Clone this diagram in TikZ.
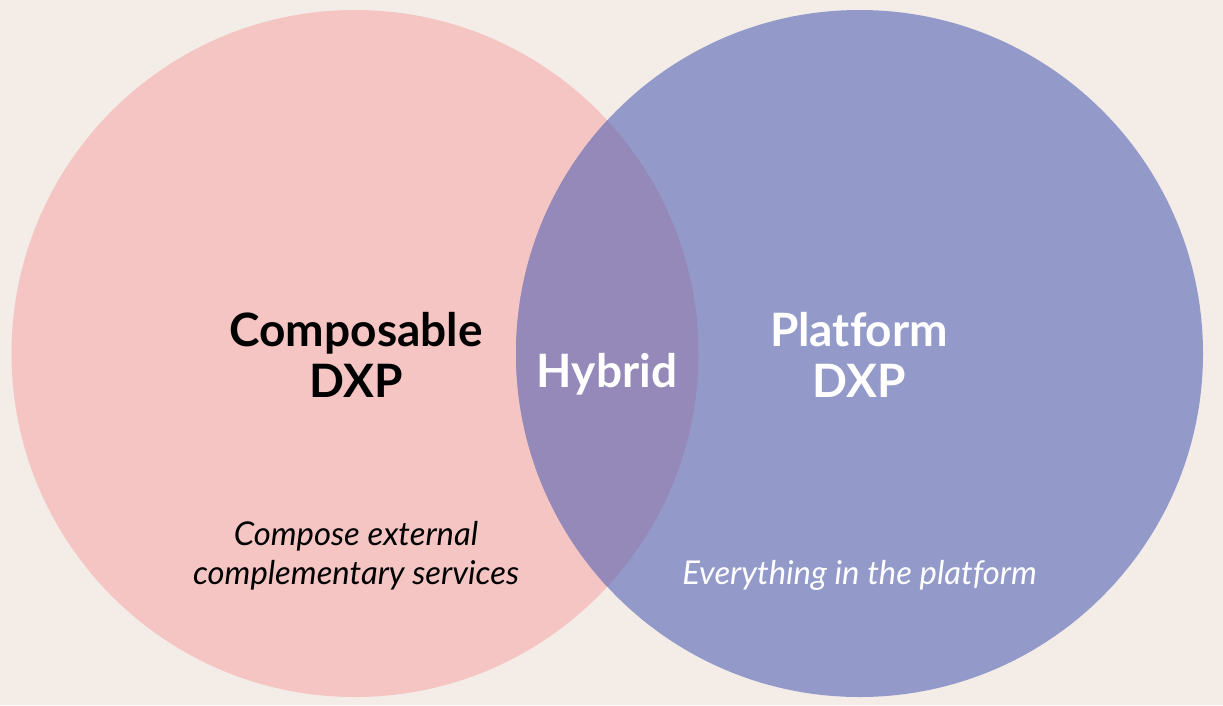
\documentclass[tikz,border=0pt]{standalone}
\usepackage{fontspec}
\setmainfont[Ligatures={NoCommon}]{Lato}
\definecolor{bgc}{HTML}{F3ECE7}
\definecolor{pinkc}{HTML}{F5C5C3}
\definecolor{bluec}{HTML}{939AC9}
\definecolor{mixc}{HTML}{9589BA}
\begin{document}
\begin{tikzpicture}[x=1pt,y=-1pt,
  title/.style={font=\fontsize{46}{51}\selectfont\bfseries, align=center, anchor=base, inner sep=0pt},
  sub/.style={font=\fontsize{32.8}{40}\selectfont\itshape, align=center, anchor=base, inner sep=0pt}]
\fill[bgc] (0,0) rectangle (1223,705);
\useasboundingbox (0,0) rectangle (1223,705);
\coordinate (cl) at (355,353.5);
\coordinate (cr) at (859.5,353.5);
\fill[pinkc] (cl) circle[radius=343.5];
\fill[bluec] (cr) circle[radius=343.5];
\begin{scope}
  \clip (cl) circle[radius=343.5];
  \fill[mixc] (cr) circle[radius=343.5];
\end{scope}
\node[title, text=black] (comp) at (356,346) {Composable};
\node[title, text=black] (compdxp) at (356,397) {DXP};
\node[title, text=white] (hyb) at (607,387) {Hybrid};
\node[title, text=white] (plat) at (859,346) {Platform};
\node[title, text=white] (platdxp) at (859,397) {DXP};
\node[sub, text=black] (s1) at (356,545) {Compose external};
\node[sub, text=black] (s2) at (356,584) {complementary services};
\node[sub, text=white] (s3) at (859.5,584) {Everything in the platform};
\end{tikzpicture}
\end{document}
